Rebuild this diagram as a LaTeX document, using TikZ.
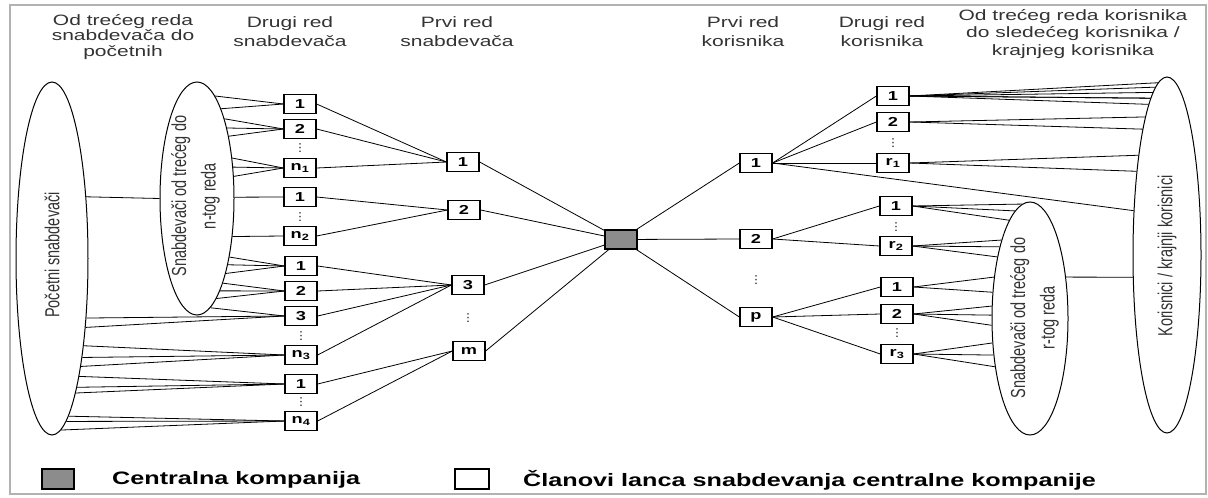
\documentclass[tikz,border=0pt]{standalone}
\usepackage{fontspec}
\usepackage{graphicx}
\setmainfont{Liberation Sans}[FakeStretch=1.4]
\newfontfamily\vertfont{Liberation Sans}
\newfontfamily\symfont{DejaVu Sans}
\usetikzlibrary{shapes.geometric}
\tikzstyle{box}=[rectangle, draw=black, line width=1.3pt, fill=white, minimum width=32pt, minimum height=19pt, inner sep=0pt, font=\fontsize{13}{13}\selectfont\bfseries]
\tikzstyle{hub}=[box, fill=black!45]
\tikzstyle{cloud}=[ellipse, draw=black, line width=1pt, inner sep=0pt]
\tikzstyle{annot}=[align=center, text=black!80, font=\fontsize{15}{19}\selectfont]
\tikzstyle{vtext}=[rotate=90, inner sep=0pt, text=black!80, font=\vertfont\fontsize{14.5}{21}\selectfont]
\tikzstyle{legend}=[anchor=west, inner sep=0pt, font=\fontsize{18}{20}\selectfont\bfseries]
\tikzstyle{dots}=[inner sep=0pt, font=\symfont\fontsize{11}{11}\selectfont]
\tikzstyle{link}=[line width=0.8pt]
% lines from an ellipse (#1, centre y #2, half axes #3 #4) at heights #6 to anchor #5
\newcommand{\tie}[6]
{
  \foreach \yy in {#6}{
    \pgfmathtruncatemacro{\ang}{mod(round(atan2(#2-\yy,#3*sqrt(1-((\yy-#2)/#4)*((\yy-#2)/#4))))+360,360)}
    \draw[link] (#1.\ang) -- (#5);
  }
}

\begin{document}
\begin{tikzpicture}[x=1pt,y=-1pt]
	\useasboundingbox (0,0) rectangle (1208,498);
	\draw[gray!60, line width=1.5pt] (10,5) rectangle (1206,494);

	% headings
	\node[annot, font=\fontsize{15}{15.5}\selectfont] (hS3) at (123,37) {Od trećeg reda\\snabdevača do\\početnih};
	\node[annot] (hS2) at (290,32) {Drugi red\\snabdevača};
	\node[annot] (hS1) at (457,32) {Prvi red\\snabdevača};
	\node[annot] (hK1) at (743,32) {Prvi red\\korisnika};
	\node[annot] (hK2) at (882,32) {Drugi red\\korisnika};
	\node[annot, font=\fontsize{15}{17.5}\selectfont] (hK3) at (1073,34) {Od trećeg reda korisnika\\do sledećeg korisnika /\\krajnjeg korisnika};

	% ellipses
	\node[cloud, minimum width=72pt, minimum height=353pt] (sOut) at (52,258.5) {};
	\node[cloud, minimum width=74pt, minimum height=233pt] (sIn) at (197,198.5) {};
	\node[cloud, minimum width=76pt, minimum height=233pt] (cIn) at (1030,318.5) {};
	\node[cloud, minimum width=68pt, minimum height=356pt] (cOut) at (1167,255) {};
	\node[vtext] (sOutTxt) at (52,255) {\scalebox{1}[1.4]{Početni snabdevači}};
	\node[vtext] (sInTxt) at (195,196) {\scalebox{1}[1.4]{\begin{tabular}{@{}c@{}}Snabdevači od trećeg do\\n-tog reda\end{tabular}}};
	\node[vtext] (cInTxt) at (1034,318) {\scalebox{1}[1.4]{\begin{tabular}{@{}c@{}}Snabdevači od trećeg do\\r-tog reda\end{tabular}}};
	\node[vtext] (cOutTxt) at (1167,256) {\scalebox{1}[1.4]{Korisnici / krajnji korisnici}};

	% second tier of suppliers
	\node[box] (b11) at (300,104) {1};
	\node[box] (b12) at (300,129) {2};
	\node[dots] at (300,148) {⋮};
	\node[box] (bn1) at (300,168) {n\textsubscript{1}};
	\node[box] (b21) at (300,197) {1};
	\node[dots] at (300,217) {⋮};
	\node[box] (bn2) at (300,236) {n\textsubscript{2}};
	\node[box] (b31) at (301,266) {1};
	\node[box] (b32) at (301,291) {2};
	\node[box] (b33) at (301,316) {3};
	\node[dots] at (301,336) {⋮};
	\node[box] (bn3) at (301,355) {n\textsubscript{3}};
	\node[box] (b41) at (301,384) {1};
	\node[dots] at (301,402) {⋮};
	\node[box] (bn4) at (301,421) {n\textsubscript{4}};

	% first tier of suppliers
	\node[box] (f1) at (463,162) {1};
	\node[box] (f2) at (464,210) {2};
	\node[box] (f3) at (468,285) {3};
	\node[dots] at (468,318) {⋮};
	\node[box] (fm) at (469,351) {m};

	\node[hub] (core) at (621,239.5) {};

	% first and second tier of customers
	\node[box] (k1) at (756,163) {1};
	\node[box] (k2) at (756,239) {2};
	\node[dots] at (756,280) {⋮};
	\node[box] (kp) at (756,317) {p};
	\node[box] (d11) at (893,96) {1};
	\node[box] (d12) at (893,122) {2};
	\node[dots] at (893,143) {⋮};
	\node[box] (dr1) at (893,163) {r\textsubscript{1}};
	\node[box] (d21) at (896,206) {1};
	\node[dots] at (896,227) {⋮};
	\node[box] (dr2) at (896,246) {r\textsubscript{2}};
	\node[box] (d31) at (897,287) {1};
	\node[box] (d32) at (897,314) {2};
	\node[dots] at (897,333) {⋮};
	\node[box] (dr3) at (897,354) {r\textsubscript{3}};

	% supplier side
	\tie{sIn}{198.5}{37}{116.5}{b11.west}{97,110}
	\tie{sIn}{198.5}{37}{116.5}{b12.west}{119,128,137}
	\tie{sIn}{198.5}{37}{116.5}{bn1.west}{158,167,177}
	\tie{sIn}{198.5}{37}{116.5}{b21.west}{197}
	\tie{sIn}{198.5}{37}{116.5}{bn2.west}{236}
	\tie{sIn}{198.5}{37}{116.5}{b31.west}{256,265,273}
	\tie{sIn}{198.5}{37}{116.5}{b32.west}{282,290,298}
	\tie{sIn}{198.5}{37}{116.5}{b33.west}{308}
	\tie{sOut}{258.5}{36}{176.5}{b33.west}{317,326}
	\tie{sOut}{258.5}{36}{176.5}{bn3.west}{345,355,366}
	\tie{sOut}{258.5}{36}{176.5}{b41.west}{375,385,393}
	\tie{sOut}{258.5}{36}{176.5}{bn4.west}{413,421,428}
	\tie{sOut}{258.5}{36}{176.5}{sIn.west}{198}

	\foreach \b in {b11,b12,bn1} \draw[link] (\b.east) -- (f1.west);
	\foreach \b in {b21,bn2} \draw[link] (\b.east) -- (f2.west);
	\foreach \b in {b31,b32,b33,bn3} \draw[link] (\b.east) -- (f3.west);
	\foreach \b in {b41,bn4} \draw[link] (\b.east) -- (fm.west);
	\foreach \f in {f1,f2,f3,fm} \draw[link] (\f.east) -- (core);

	% customer side
	\foreach \k in {k1,k2,kp} \draw[link] (core) -- (\k.west);
	\foreach \d in {d11,d12,dr1} \draw[link] (k1.east) -- (\d.west);
	\foreach \d in {d21,dr2} \draw[link] (k2.east) -- (\d.west);
	\foreach \d in {d31,d32,dr3} \draw[link] (kp.east) -- (\d.west);

	\tie{cOut}{255}{-34}{178}{d11.east}{85,89,93,98,102,108}
	\tie{cOut}{255}{-34}{178}{d12.east}{118,133}
	\tie{cOut}{255}{-34}{178}{dr1.east}{155,172}
	\tie{cOut}{255}{-34}{178}{k1.east}{212}
	\tie{cIn}{318.5}{-38}{116.5}{d21.east}{205,212,220}
	\tie{cIn}{318.5}{-38}{116.5}{dr2.east}{241,248,257}
	\tie{cIn}{318.5}{-38}{116.5}{d31.east}{278,293}
	\tie{cIn}{318.5}{-38}{116.5}{d32.east}{306,315,325}
	\tie{cIn}{318.5}{-38}{116.5}{dr3.east}{343,355,366}
	\draw[link] (cIn.49) -- (cOut.213);

	% legend
	\node[hub, minimum height=20pt] (keyCore) at (58,479) {};
	\node[legend] (keyCoreTxt) at (112,480) {Centralna kompanija};
	\node[box, minimum width=34pt, minimum height=20pt] (keyMember) at (472,479) {};
	\node[legend] (keyMemberTxt) at (523,480) {Članovi lanca snabdevanja centralne kompanije};

\end{tikzpicture}
\end{document}
